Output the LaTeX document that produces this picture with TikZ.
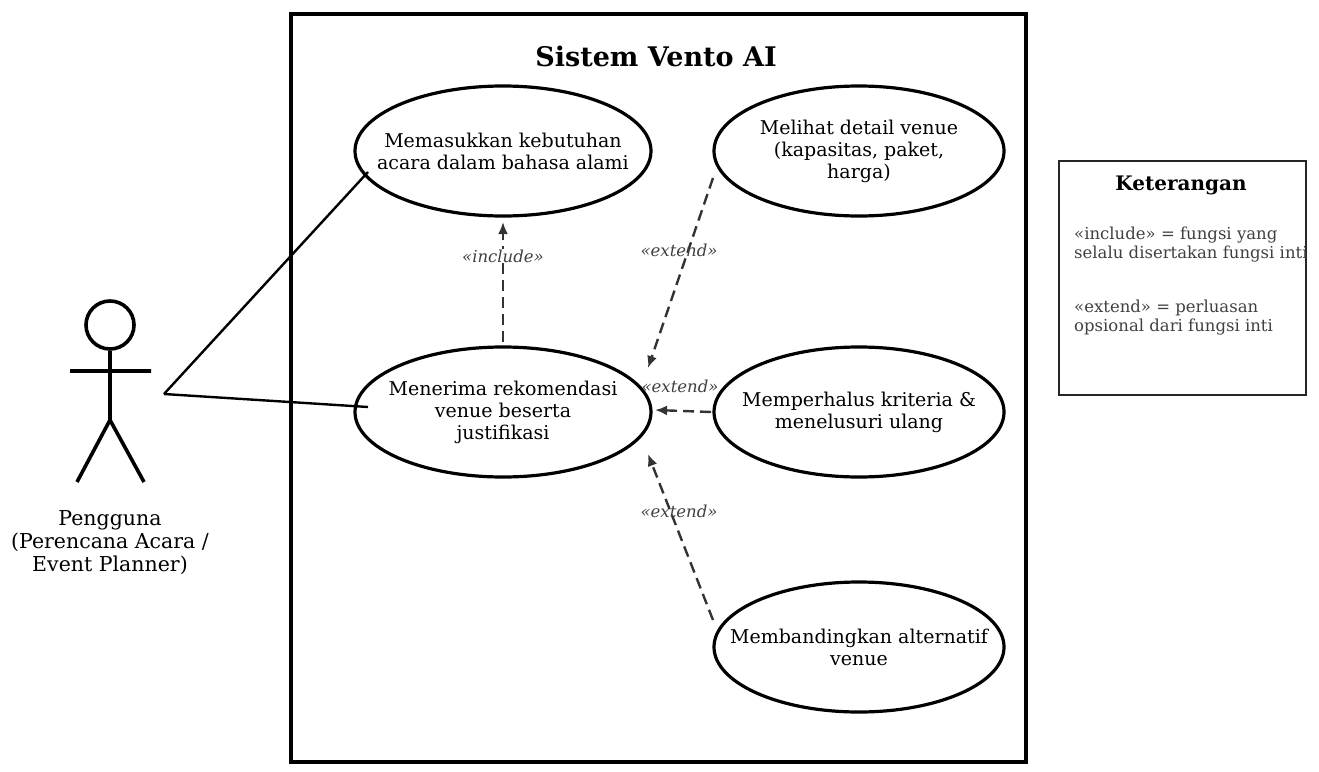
\documentclass[tikz,border=0pt]{standalone}
\usepackage{fontspec}
\setmainfont{DejaVu Serif}
\usetikzlibrary{shapes.geometric,arrows.meta}
\begin{document}
\begin{tikzpicture}[x=1pt,y=-1pt,
  uc/.style={ellipse,draw,line width=3.2pt,minimum width=296pt,minimum height=130pt,align=center,font=\fontsize{19}{22}\selectfont,inner sep=-45pt},
  dep/.style={dashed,dash pattern=on 11pt off 6pt,line width=2.4pt,draw=black!80,-{Latex[length=12pt,width=10pt]}},
  lab/.style={font=\fontsize{16.5}{19}\selectfont\itshape,text=black!75,inner sep=1pt},
  assoc/.style={line width=2.4pt}]
\useasboundingbox (0,0) rectangle (1319,771);
\node[draw,line width=3.8pt,minimum width=735pt,minimum height=748pt,anchor=north west] (sys) at (289,12) {};
\node[font=\fontsize{27}{30}\selectfont\bfseries] (title) at (656,56) {Sistem Vento AI};
\node[uc] (u1) at (503,151) {Memasukkan kebutuhan\\acara dalam bahasa alami};
\node[uc,minimum width=290pt] (u2) at (859,151) {Melihat detail venue\\(kapasitas, paket,\\harga)};
\node[uc] (u3) at (503,412) {Menerima rekomendasi\\venue beserta\\justifikasi};
\node[uc,minimum width=290pt] (u4) at (859,412) {Memperhalus kriteria \&\\menelusuri ulang};
\node[uc,minimum width=290pt] (u5) at (859,647) {Membandingkan alternatif\\venue};
% actor
\node[circle,draw,line width=3.6pt,minimum size=48pt,inner sep=0] (head) at (110,325) {};
\coordinate (hip) at (110,420);
\coordinate (la) at (70,371); \coordinate (ra) at (151,371);
\coordinate (ll) at (77,482); \coordinate (rl) at (144,482);
\draw[line width=3.6pt] (head.south) -- (hip) (la) -- (ra) (ll) -- (hip) -- (rl);
\node[font=\fontsize{20.5}{23}\selectfont,align=center] (actor) at (110,543) {Pengguna\\(Perencana Acara /\\Event Planner)};
\coordinate (hand) at (164,394);
\coordinate (e1) at (368,172); \coordinate (e3) at (368,407);
\draw[assoc] (hand) -- (e1);
\draw[assoc] (hand) -- (e3);
% dependencies
\coordinate (i1) at (503,342); \coordinate (i2) at (503,222);
\draw[dep] (i1) -- (i2);
\node[lab,fill=white] at (503,256) {«include»};
\coordinate (a1) at (713,178); \coordinate (a2) at (648,368);
\draw[dep] (a1) -- (a2);
\node[lab] at (679,250) {«extend»};
\coordinate (b1) at (711,412); \coordinate (b2) at (655,410);
\draw[dep] (b1) -- (b2);
\node[lab] at (680,386) {«extend»};
\coordinate (c1) at (713,620); \coordinate (c2) at (648,454);
\draw[dep] (c1) -- (c2);
\node[lab] at (679,511) {«extend»};
% legend
\node[draw=black!85,line width=1.8pt,minimum width=247pt,minimum height=234pt,anchor=north west] (leg) at (1058,160) {};
\node[font=\fontsize{20}{23}\selectfont\bfseries] (legt) at (1181,185) {Keterangan};
\node[anchor=north west,align=left,text=black!75,font=\fontsize{16.5}{19}\selectfont,inner sep=0] (l1) at (1074,227) {«include» = fungsi yang\\selalu disertakan fungsi inti};
\node[anchor=north west,align=left,text=black!75,font=\fontsize{16.5}{19}\selectfont,inner sep=0] (l2) at (1074,300) {«extend» = perluasan\\opsional dari fungsi inti};
\end{tikzpicture}
\end{document}
